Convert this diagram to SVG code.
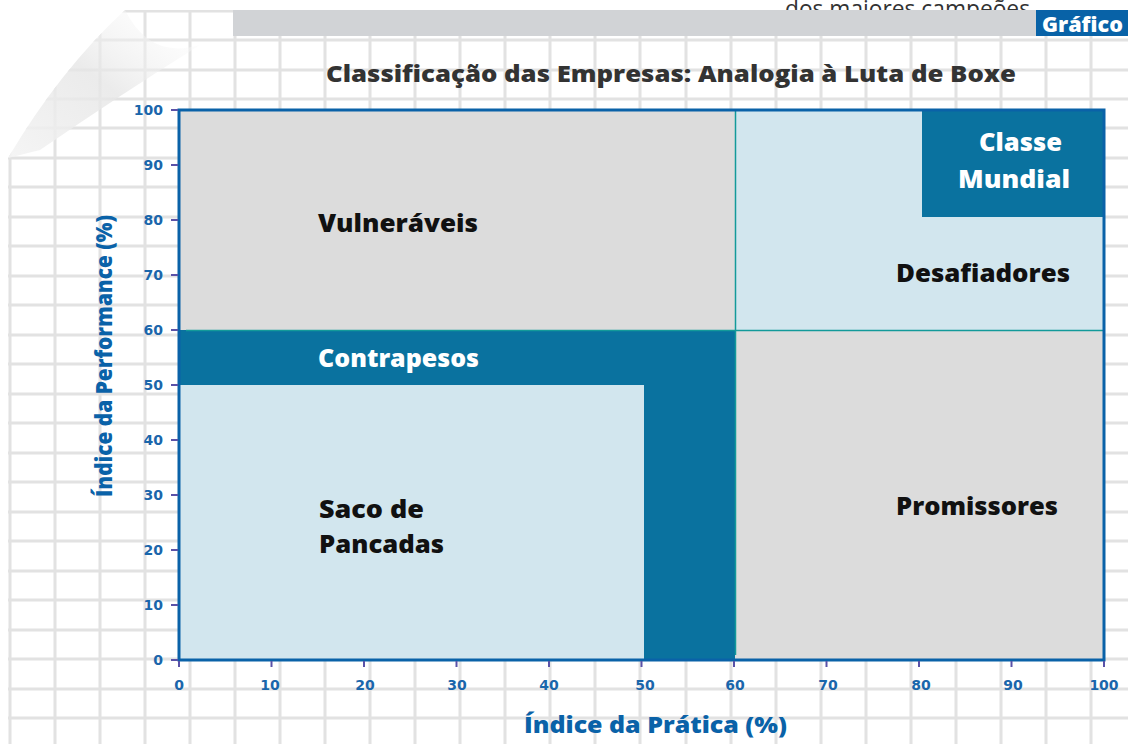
<svg xmlns="http://www.w3.org/2000/svg" width="1128" height="744" viewBox="0 0 1128 744">
<defs>
<style>
.grid line{stroke:#e2e2e2;stroke-width:3}
.tick{stroke:#5a52a8;stroke-width:2}
.tl{font-family:"DejaVu Sans","Liberation Sans",sans-serif;font-weight:bold;font-size:14px;fill:#1a66ab}
.ql{font-family:"Open Sans","DejaVu Sans",sans-serif;font-weight:800;font-size:24px;fill:#111}
.qw{font-family:"Open Sans","DejaVu Sans",sans-serif;font-weight:800;font-size:24px;fill:#ffffff}
.ax{font-family:"Open Sans","DejaVu Sans",sans-serif;font-weight:800;font-size:22px;fill:#0a62a8}
</style>
<clipPath id="page"><path d="M8,158 Q60,70 125,10 L1128,10 L1128,744 L8,744 Z"/></clipPath>
<linearGradient id="flap" x1="0" y1="1" x2="1" y2="0">
<stop offset="0" stop-color="#f4f4f4" stop-opacity="0.9"/>
<stop offset="0.5" stop-color="#e6e6e6" stop-opacity="0.8"/>
<stop offset="1" stop-color="#ffffff" stop-opacity="0.2"/>
</linearGradient>
</defs>
<rect x="0" y="0" width="1128" height="744" fill="#ffffff"/>
<g id="background-grid" class="grid" clip-path="url(#page)">
<line x1="10" y1="0" x2="10" y2="744"/><line x1="55" y1="0" x2="55" y2="744"/><line x1="100" y1="0" x2="100" y2="744"/><line x1="145" y1="0" x2="145" y2="744"/><line x1="190" y1="0" x2="190" y2="744"/><line x1="235" y1="0" x2="235" y2="744"/><line x1="280" y1="0" x2="280" y2="744"/><line x1="325" y1="0" x2="325" y2="744"/><line x1="370" y1="0" x2="370" y2="744"/><line x1="415" y1="0" x2="415" y2="744"/><line x1="460" y1="0" x2="460" y2="744"/><line x1="505" y1="0" x2="505" y2="744"/><line x1="550" y1="0" x2="550" y2="744"/><line x1="595" y1="0" x2="595" y2="744"/><line x1="640" y1="0" x2="640" y2="744"/><line x1="686" y1="0" x2="686" y2="744"/><line x1="731" y1="0" x2="731" y2="744"/><line x1="776" y1="0" x2="776" y2="744"/><line x1="821" y1="0" x2="821" y2="744"/><line x1="866" y1="0" x2="866" y2="744"/><line x1="911" y1="0" x2="911" y2="744"/><line x1="956" y1="0" x2="956" y2="744"/><line x1="1001" y1="0" x2="1001" y2="744"/><line x1="1046" y1="0" x2="1046" y2="744"/><line x1="1091" y1="0" x2="1091" y2="744"/>
<line x1="0" y1="11" x2="1128" y2="11"/><line x1="0" y1="40" x2="1128" y2="40"/><line x1="0" y1="70" x2="1128" y2="70"/><line x1="0" y1="99" x2="1128" y2="99"/><line x1="0" y1="128" x2="1128" y2="128"/><line x1="0" y1="158" x2="1128" y2="158"/><line x1="0" y1="187" x2="1128" y2="187"/><line x1="0" y1="217" x2="1128" y2="217"/><line x1="0" y1="246" x2="1128" y2="246"/><line x1="0" y1="276" x2="1128" y2="276"/><line x1="0" y1="305" x2="1128" y2="305"/><line x1="0" y1="335" x2="1128" y2="335"/><line x1="0" y1="364" x2="1128" y2="364"/><line x1="0" y1="394" x2="1128" y2="394"/><line x1="0" y1="423" x2="1128" y2="423"/><line x1="0" y1="453" x2="1128" y2="453"/><line x1="0" y1="482" x2="1128" y2="482"/><line x1="0" y1="512" x2="1128" y2="512"/><line x1="0" y1="541" x2="1128" y2="541"/><line x1="0" y1="571" x2="1128" y2="571"/><line x1="0" y1="600" x2="1128" y2="600"/><line x1="0" y1="630" x2="1128" y2="630"/><line x1="0" y1="659" x2="1128" y2="659"/><line x1="0" y1="689" x2="1128" y2="689"/><line x1="0" y1="718" x2="1128" y2="718"/>
</g>
<path id="page-curl" d="M8,158 Q60,70 125,10 Q150,60 200,45 Q120,95 40,150 Z" fill="url(#flap)"/>
<text x="785" y="17" font-family="'Open Sans','DejaVu Sans',sans-serif" font-size="24" fill="#333" textLength="245" lengthAdjust="spacingAndGlyphs">dos maiores campeões</text>
<g id="header">
<rect x="233" y="10" width="803" height="26" fill="#d1d3d6"/>
<rect x="1036" y="10" width="92" height="26" fill="#0862a7"/>
<text x="1042" y="32" font-family="'Open Sans','DejaVu Sans',sans-serif" font-weight="800" font-size="21" fill="#ffffff" textLength="81" lengthAdjust="spacingAndGlyphs">Gráfico</text>
</g>
<text id="title" x="326" y="82" font-family="'Open Sans','DejaVu Sans',sans-serif" font-weight="800" font-size="22" fill="#333333" textLength="690" lengthAdjust="spacingAndGlyphs">Classificação das Empresas: Analogia à Luta de Boxe</text>
<g id="vulneraveis">
<rect x="179" y="110" width="556" height="220" fill="#dcdcdc"/>
<text class="ql" x="318" y="232" textLength="160" lengthAdjust="spacingAndGlyphs">Vulneráveis</text>
</g>
<g id="desafiadores">
<rect x="735" y="110" width="369" height="220" fill="#d2e6ee"/>
<text class="ql" x="896" y="282" textLength="174" lengthAdjust="spacingAndGlyphs">Desafiadores</text>
</g>
<g id="classe-mundial">
<rect x="922" y="110" width="182" height="107" fill="#0a729f"/>
<text class="qw" x="979" y="151" textLength="83" lengthAdjust="spacingAndGlyphs">Classe</text>
<text class="qw" x="958" y="188" textLength="112" lengthAdjust="spacingAndGlyphs">Mundial</text>
</g>
<g id="promissores">
<rect x="735" y="330" width="369" height="330" fill="#dcdcdc"/>
<text class="ql" x="896" y="515" textLength="162" lengthAdjust="spacingAndGlyphs">Promissores</text>
</g>
<g id="contrapesos">
<rect x="179" y="330" width="556" height="330" fill="#0a729f"/>
<text class="qw" x="318" y="367" textLength="161" lengthAdjust="spacingAndGlyphs">Contrapesos</text>
</g>
<g id="saco-de-pancadas">
<rect x="179" y="385" width="465" height="275" fill="#d2e6ee"/>
<text class="ql" x="319" y="518" textLength="105" lengthAdjust="spacingAndGlyphs">Saco de</text>
<text class="ql" x="319" y="553" textLength="125" lengthAdjust="spacingAndGlyphs">Pancadas</text>
</g>
<g id="connectors">
<line x1="735.5" y1="110" x2="735.5" y2="655" stroke="#139a9a" stroke-width="1.5"/>
<line x1="186" y1="330.5" x2="1104" y2="330.5" stroke="#139a9a" stroke-width="1.5"/>
</g>
<g id="axes">
<rect x="179" y="110" width="925" height="550" fill="none" stroke="#0a62a8" stroke-width="3"/>
<g class="tick">
<line x1="171" y1="110" x2="178" y2="110"/><line x1="171" y1="165" x2="178" y2="165"/><line x1="171" y1="220" x2="178" y2="220"/><line x1="171" y1="275" x2="178" y2="275"/><line x1="171" y1="330" x2="178" y2="330"/><line x1="171" y1="385" x2="178" y2="385"/><line x1="171" y1="440" x2="178" y2="440"/><line x1="171" y1="495" x2="178" y2="495"/><line x1="171" y1="550" x2="178" y2="550"/><line x1="171" y1="605" x2="178" y2="605"/><line x1="171" y1="660" x2="178" y2="660"/>
<line x1="179" y1="661" x2="179" y2="667"/><line x1="271.5" y1="661" x2="271.5" y2="667"/><line x1="364" y1="661" x2="364" y2="667"/><line x1="456.5" y1="661" x2="456.5" y2="667"/><line x1="549" y1="661" x2="549" y2="667"/><line x1="641.5" y1="661" x2="641.5" y2="667"/><line x1="734" y1="661" x2="734" y2="667"/><line x1="826.5" y1="661" x2="826.5" y2="667"/><line x1="919" y1="661" x2="919" y2="667"/><line x1="1011.5" y1="661" x2="1011.5" y2="667"/><line x1="1104" y1="661" x2="1104" y2="667"/>
</g>
<g class="tl" text-anchor="end">
<text x="163" y="115">100</text><text x="163" y="170">90</text><text x="163" y="225">80</text><text x="163" y="280">70</text><text x="163" y="335">60</text><text x="163" y="390">50</text><text x="163" y="445">40</text><text x="163" y="500">30</text><text x="163" y="555">20</text><text x="163" y="610">10</text><text x="163" y="665">0</text>
</g>
<g class="tl" text-anchor="middle">
<text x="179" y="690">0</text><text x="270" y="690">10</text><text x="365" y="690">20</text><text x="457" y="690">30</text><text x="549" y="690">40</text><text x="645" y="690">50</text><text x="735" y="690">60</text><text x="828" y="690">70</text><text x="921" y="690">80</text><text x="1013" y="690">90</text><text x="1104" y="690">100</text>
</g>
<text class="ax" x="524" y="733" textLength="263" lengthAdjust="spacingAndGlyphs">Índice da Prática (%)</text>
<text class="ax" transform="translate(112,497) rotate(-90)" x="0" y="0" textLength="282" lengthAdjust="spacingAndGlyphs">Índice da Performance (%)</text>
</g>
</svg>
